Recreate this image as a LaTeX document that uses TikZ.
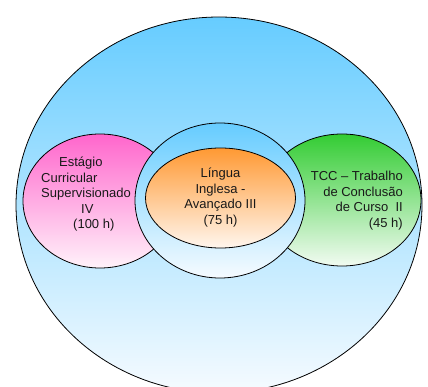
\documentclass[tikz,border=0pt]{standalone}
\usepackage{fontspec}
\setmainfont{Liberation Sans}
\usetikzlibrary{shapes.geometric}
\definecolor{skytop}{RGB}{102,204,255}
\definecolor{skybot}{RGB}{246,251,255}
\definecolor{pinktop}{RGB}{255,102,204}
\definecolor{pinkbot}{RGB}{255,242,250}
\definecolor{greentop}{RGB}{51,204,51}
\definecolor{greenbot}{RGB}{242,251,242}
\definecolor{orangetop}{RGB}{255,153,51}
\definecolor{orangebot}{RGB}{255,246,238}
\definecolor{labelink}{RGB}{25,25,25}
\tikzset{
  blob/.style={ellipse, draw=black, line width=0.8pt, inner sep=0pt, shading=axis},
  label text/.style={font=\fontsize{13}{15.5}\selectfont, text=labelink, inner sep=0pt}
}
\begin{document}
\begin{tikzpicture}[x=1pt,y=-1pt]
  \useasboundingbox (0,0) rectangle (428,387);
  \clip (0,0) rectangle (428,387);
  % outer field
  \node[blob, top color=skytop, bottom color=skybot,
        minimum width=406pt, minimum height=376pt] (outer) at (219,205) {};
  % side courses
  \node[blob, top color=pinktop, bottom color=pinkbot,
        minimum width=154pt, minimum height=134pt] (estagio) at (100,201) {};
  \node[blob, top color=greentop, bottom color=greenbot,
        minimum width=158pt, minimum height=132pt] (tcc) at (342,200) {};
  % central ring and core
  \node[blob, top color=skytop, bottom color=skybot,
        minimum width=170pt, minimum height=155pt] (ring) at (220,200.5) {};
  \node[blob, top color=orangetop, bottom color=orangebot,
        minimum width=150pt, minimum height=100pt] (lingua) at (220.5,198) {};
  % labels (base anchor sits on the last line)
  \node[label text, anchor=base west, align=left] (estagiotext) at (41,229)
    {\hspace*{18pt}Estágio\\Curricular\\Supervisionado\\\hspace*{40pt}IV\\\hspace*{32pt}(100 h)};
  \node[label text, anchor=base, align=center] (linguatext) at (220.5,224.5)
    {Língua\\Inglesa -\\Avançado III\\(75 h)};
  \node[label text, anchor=base east, align=right] (tcctext) at (403,227.5)
    {TCC – Trabalho\\de Conclusão\\de Curso\ \ II\\(45 h)};
\end{tikzpicture}
\end{document}
